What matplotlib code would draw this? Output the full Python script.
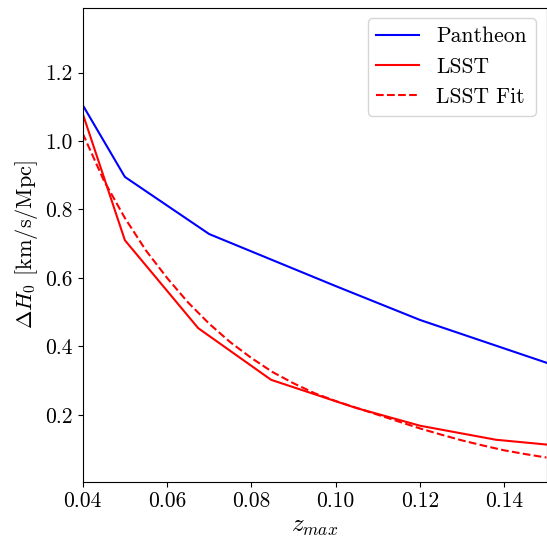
import matplotlib
matplotlib.use('Agg')
import matplotlib.pyplot as plt

# values
z_pantheon = [0.04, 0.05, 0.07, 0.085, 0.10, 0.12, 0.15]
dh_pantheon = [1.105, 0.895, 0.728, 0.652, 0.576, 0.477, 0.352]

z_lsst = [0.04, 0.05, 0.0674, 0.0847, 0.1048, 0.12, 0.138, 0.15]
dh_lsst = [1.08, 0.71, 0.453, 0.302, 0.220, 0.168, 0.127, 0.113]

z_fit = [0.040, 0.045, 0.050, 0.055, 0.060, 0.065, 0.070, 0.075, 0.080,
         0.085, 0.090, 0.095, 0.100, 0.105, 0.110, 0.115, 0.120, 0.125,
         0.130, 0.135, 0.140, 0.145, 0.150]
dh_fit = [1.022, 0.885, 0.775, 0.680, 0.600, 0.528, 0.466, 0.412, 0.366,
          0.325, 0.292, 0.263, 0.240, 0.220, 0.200, 0.180, 0.160, 0.142,
          0.125, 0.110, 0.096, 0.085, 0.075]

plt.rcParams['font.family'] = 'serif'
plt.rcParams['font.serif'] = ['cmr10']
plt.rcParams['mathtext.fontset'] = 'cm'
plt.rcParams['axes.formatter.use_mathtext'] = True
plt.rcParams['font.size'] = 15.5

fig = plt.figure(figsize=(5.47, 5.41), dpi=100)
ax = fig.add_axes([82.7 / 547, 59.5 / 541, (546.5 - 82.7) / 547, (481.5 - 7.5) / 541])

ax.plot(z_pantheon, dh_pantheon, color='blue', lw=1.5, label='Pantheon')
ax.plot(z_lsst, dh_lsst, color='red', lw=1.5, label='LSST')
ax.plot(z_fit, dh_fit, color='red', lw=1.5, ls='--', label='LSST Fit')

ax.set_xlim(0.04, 0.15)
ax.set_ylim(0.005, 1.39)
ax.set_xticks([0.04, 0.06, 0.08, 0.10, 0.12, 0.14])
ax.set_xticklabels(['0.04', '0.06', '0.08', '0.10', '0.12', '0.14'])
ax.set_yticks([0.2, 0.4, 0.6, 0.8, 1.0, 1.2])
ax.set_yticklabels(['0.2', '0.4', '0.6', '0.8', '1.0', '1.2'])

ax.set_xlabel(r'$z_{max}$', fontsize=18)
ax.set_ylabel(r'$\Delta H_0$ [km/s/Mpc]', fontsize=16)

ax.legend(loc='upper right', fontsize=15.5)

fig.savefig('out.png', dpi=100)
